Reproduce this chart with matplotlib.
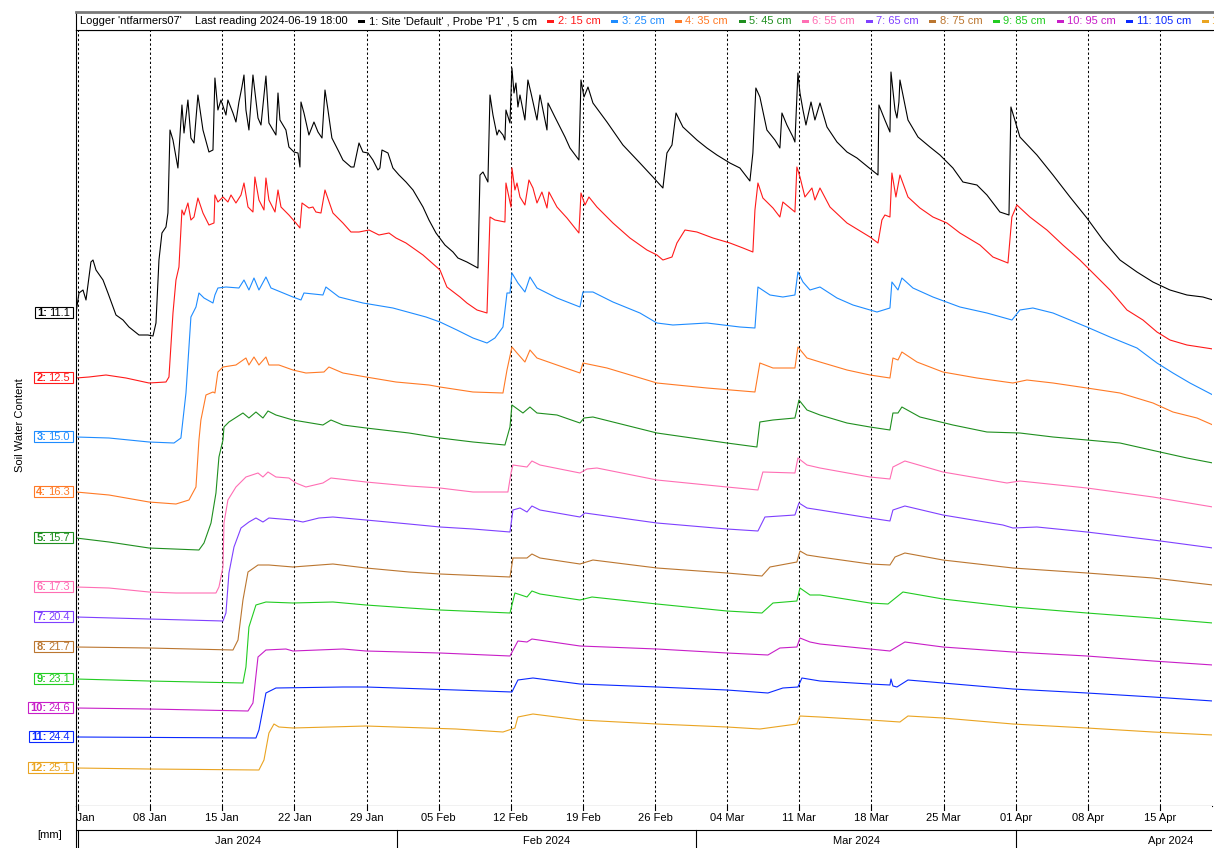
import datetime as dt
import matplotlib
matplotlib.use("Agg")
import matplotlib.pyplot as plt
from matplotlib.patches import Rectangle
from matplotlib.transforms import IdentityTransform

plt.rcParams['font.family'] = ['Liberation Sans', 'DejaVu Sans']

# ---------------- data ----------------
START = dt.date(2024, 1, 1)
logger_name = "ntfarmers07"
last_reading = "2024-06-19 18:00"
depths_cm = [5, 15, 25, 35, 45, 55, 65, 75, 85, 95, 105, 115]
current_values = [11.1, 12.5, 15.0, 16.3, 15.7, 17.3, 20.4, 21.7, 23.1, 24.6, 24.4, 25.1]
colors = ['#000000', '#ff1a1a', '#1e8cff', '#ff7a26', '#1f8f1f', '#ff6eb4',
          '#7f40ff', '#bb7630', '#22cc22', '#c81ec8', '#0a28ff', '#eaa421']

# (day since 2024-01-01, stacked trace position; larger = lower on the chart)
s1 = [(-0.19,313),(0.10,293),(0.49,290),(0.78,300),(1.26,262),(1.46,260),(1.75,270),(2.43,280),(2.91,293),
      (3.69,315),(4.37,320),(4.95,327),(5.92,335),(6.79,335),(7.28,336),(7.57,323),(7.86,260),(8.15,233),
      (8.54,227),(8.73,213),(8.93,130),(9.22,140),(9.70,168),(10.09,105),(10.29,133),(10.67,100),(10.96,138),
      (11.26,143),(11.64,95),(12.13,130),(12.71,152),(13.10,150),(13.29,78),(13.58,110),(13.88,100),(14.36,115),
      (14.55,100),(15.04,113),(15.33,122),(15.62,102),(15.91,87),(16.11,75),(16.30,110),(16.59,130),(16.98,75),
      (17.47,118),(17.76,125),(18.24,76),(18.53,123),(19.21,135),(19.41,93),(19.60,120),(20.18,130),(20.47,147),
      (20.96,152),(21.35,153),(21.54,167),(21.64,102),(21.93,113),(22.41,135),(22.90,122),(23.29,132),(23.68,138),
      (23.97,90),(24.26,110),(24.64,138),(25.33,152),(25.71,160),(26.49,167),(26.78,167),(27.27,143),(27.65,152),
      (28.14,153),(28.62,160),(29.11,170),(29.30,168),(29.50,150),(30.08,153),(30.56,168),(31.15,175),(31.83,182),
      (32.51,190),(33.48,207),(34.06,220),(34.74,233),(35.61,245),(36.39,252),(36.87,258),(37.74,262),(38.81,268),
      (39.01,175),(39.30,172),(39.78,182),(39.98,95),(40.27,115),(40.66,135),(40.85,130),(41.24,135),(41.43,140),
      (41.53,110),(41.92,123),(42.11,68),(42.31,93),(42.50,83),(42.69,107),(42.89,95),(43.37,120),(43.66,80),
      (43.96,93),(44.54,120),(44.83,95),(45.51,130),(45.61,103),(46.28,117),(47.26,137),(47.74,148),(48.61,160),
      (48.81,80),(49.10,97),(49.49,87),(49.97,103),(51.33,122),(52.88,145),(54.53,163),(55.79,177),(56.76,188),
      (57.15,153),(57.64,145),(58.03,113),(58.70,127),(60.06,140),(61.03,148),(62.00,155),(63.26,163),(64.23,168),
      (65.20,181),(65.49,153),(65.78,88),(66.17,97),(66.85,130),(67.63,140),(68.11,148),(68.31,113),(68.79,125),
      (69.38,137),(69.57,142),(69.86,73),(70.06,93),(70.35,110),(70.64,125),(71.13,102),(71.51,120),(72.00,103),
      (72.68,127),(73.65,142),(74.62,152),(75.59,158),(76.66,167),(77.63,175),(77.72,105),(78.30,120),(78.79,132),
      (78.89,72),(79.28,110),(79.47,118),(79.66,102),(79.76,80),(80.54,120),(81.51,137),(82.67,147),(83.64,155),
      (84.90,168),(85.87,182),(87.23,185),(88.20,195),(89.46,212),(90.34,215),(90.53,107),(91.40,137),(93.05,155),
      (94.61,175),(96.26,197),(97.90,218),(99.46,240),(101.11,260),(102.76,272),(104.31,282),(105.96,290),
      (107.61,295),(109.16,297),(110.13,300)]
s2 = [(-0.19,378),(1.07,377),(2.72,375),(4.66,378),(6.89,383),(8.54,382),(8.83,377),(9.22,313),(9.51,280),
      (9.80,267),(10.09,210),(10.29,215),(10.67,203),(10.96,220),(11.26,217),(11.64,198),(12.13,213),(12.71,225),
      (13.20,223),(13.29,195),(13.58,202),(14.07,197),(14.55,202),(14.85,195),(15.33,203),(15.82,195),(16.11,183),
      (16.50,207),(16.98,212),(17.17,177),(17.56,200),(18.05,210),(18.24,178),(18.53,200),(19.12,212),(19.41,190),
      (19.70,207),(20.47,215),(21.15,223),(21.54,228),(21.74,203),(22.41,208),(22.80,207),(23.09,212),(23.58,213),
      (23.97,190),(24.74,213),(25.71,223),(26.49,232),(27.27,232),(28.24,230),(29.21,235),(30.18,233),(30.86,238),
      (31.83,243),(33.48,255),(35.13,270),(35.80,287),(37.07,297),(37.74,303),(38.72,310),(39.69,313),(39.98,217),
      (40.46,220),(41.43,222),(41.53,183),(42.02,207),(42.11,168),(42.40,190),(42.60,183),(42.89,197),(43.37,205),
      (43.76,180),(44.15,188),(44.54,203),(45.02,192),(45.51,208),(45.70,192),(46.48,207),(47.45,218),(48.61,233),
      (48.81,193),(49.20,205),(49.58,197),(50.36,207),(51.91,223),(53.56,238),(55.21,250),(56.18,255),(56.76,260),
      (57.64,257),(58.12,243),(58.90,230),(60.06,232),(61.62,238),(63.26,243),(64.53,248),(65.49,252),(65.69,210),
      (65.98,183),(66.46,198),(67.44,208),(68.11,217),(68.40,202),(69.57,212),(69.76,167),(70.06,177),(70.54,197),
      (71.22,188),(71.51,200),(72.00,188),(72.97,207),(74.62,223),(76.85,237),(77.63,243),(78.01,220),(78.30,215),
      (78.79,217),(78.98,173),(79.37,197),(79.76,175),(80.54,197),(81.70,208),(82.96,217),(84.32,223),(85.58,233),
      (87.52,245),(88.78,257),(90.24,263),(90.62,217),(91.11,205),(92.37,217),(94.02,230),(95.57,245),(97.22,260),
      (98.49,273),(100.14,290),(101.79,310),(103.34,320),(104.70,332),(105.96,340),(107.61,345),(110.13,349)]
s3 = [(-0.19,437),(3.01,438),(6.89,442),(9.32,443),(9.99,438),(10.48,393),(10.96,317),(11.45,307),(11.74,293),
      (12.23,298),(13.10,303),(13.29,295),(13.58,288),(14.36,287),(15.62,288),(16.11,280),(16.59,290),(17.08,278),
      (17.56,290),(18.24,277),(18.73,288),(19.21,290),(20.86,297),(21.64,300),(21.93,293),(23.77,295),(24.06,287),
      (25.33,297),(27.65,303),(30.56,308),(33.77,317),(35.13,322),(36.77,330),(38.33,338),(39.69,343),(40.46,338),
      (41.24,327),(41.63,293),(41.92,293),(42.11,273),(42.69,283),(43.37,292),(43.86,277),(44.54,288),(45.51,293),
      (46.48,298),(48.71,307),(49.00,292),(49.97,292),(51.91,302),(54.53,313),(56.18,323),(57.73,325),(61.03,323),
      (64.23,327),(65.69,328),(65.98,287),(67.15,295),(68.40,297),(69.57,295),(69.86,272),(70.35,282),(71.03,290),
      (72.00,287),(73.65,298),(75.20,305),(77.53,312),(78.79,308),(78.98,282),(79.57,290),(79.95,278),(81.02,288),
      (82.96,297),(85.58,307),(88.20,313),(90.63,320),(91.40,310),(92.66,308),(94.61,313),(97.90,327),(100.14,337),
      (102.76,348),(104.70,363),(106.25,373),(107.90,383),(110.13,395)]
s4 = [(-0.19,492),(3.01,495),(6.89,502),(9.51,504),(10.77,500),(11.45,487),(11.74,440),(11.93,420),(12.42,395),
      (13.10,392),(13.29,393),(13.58,372),(14.07,367),(15.33,365),(16.30,358),(16.59,365),(17.08,357),(17.56,365),
      (18.24,357),(18.53,365),(19.50,365),(20.86,370),(22.12,373),(23.87,372),(24.35,367),(25.71,373),(27.95,377),
      (30.86,382),(34.06,385),(35.13,387),(38.33,392),(41.24,393),(41.63,370),(42.11,347),(42.60,353),(43.37,362),
      (43.86,350),(44.54,358),(46.48,365),(48.71,373),(49.00,363),(51.33,368),(56.18,383),(61.03,388),(65.69,392),
      (66.17,363),(67.44,368),(69.57,368),(69.86,347),(70.74,358),(72.00,362),(74.62,370),(76.85,375),(78.79,378),
      (79.08,358),(79.57,360),(79.95,352),(81.41,362),(83.93,372),(87.23,378),(90.72,383),(92.08,380),(94.61,383),
      (97.90,388),(101.11,393),(104.31,403),(106.25,412),(108.58,418),(110.13,425)]
s5 = [(-0.19,538),(3.01,542),(6.89,548),(11.74,550),(12.23,543),(12.91,523),(13.39,493),(13.68,457),(14.07,440),
      (14.17,427),(14.65,422),(16.01,413),(16.59,418),(17.27,412),(17.95,418),(18.44,411),(19.21,415),(20.86,420),
      (23.77,425),(24.55,420),(25.71,425),(27.95,428),(32.12,433),(35.13,438),(38.33,442),(41.43,445),(41.92,427),
      (42.11,405),(43.18,413),(43.86,407),(44.54,413),(46.48,415),(48.71,423),(49.10,418),(49.97,417),(56.18,433),
      (62.97,443),(65.88,447),(66.17,422),(67.44,420),(69.57,418),(69.96,400),(70.74,410),(72.00,415),(74.62,423),
      (76.85,427),(78.79,430),(79.08,413),(79.57,413),(79.95,407),(81.70,417),(84.90,425),(88.20,432),(91.40,433),
      (94.61,437),(97.90,440),(101.11,443),(104.99,452),(107.61,458),(110.13,463)]
s6 = [(-0.19,587),(3.01,588),(6.89,592),(9.51,593),(13.39,593),(13.68,587),(14.07,567),(14.17,523),(14.55,500),
      (15.33,487),(16.30,477),(17.47,473),(17.95,477),(18.44,472),(19.21,477),(20.47,478),(21.15,483),(22.12,487),
      (23.77,483),(24.55,478),(27.95,482),(32.12,486),(35.13,488),(38.33,492),(41.72,492),(42.02,473),(42.21,465),
      (43.57,467),(44.05,461),(44.83,465),(48.71,473),(49.39,469),(50.36,468),(56.18,480),(62.97,487),(65.98,490),
      (66.46,472),(69.57,473),(69.86,458),(70.74,465),(72.00,468),(76.85,477),(78.79,479),(79.08,467),(80.24,461),
      (83.93,472),(90.14,483),(91.40,481),(97.90,488),(104.31,497),(110.13,507)]
s7 = [(-0.19,617),(6.89,619),(14.07,621),(14.36,613),(14.65,573),(15.14,547),(15.82,528),(16.59,522),(17.27,518),
      (17.95,522),(18.53,518),(20.86,520),(21.83,522),(23.38,518),(24.74,517),(27.95,520),(32.12,524),(35.13,527),
      (38.33,529),(41.92,532),(42.21,510),(42.89,508),(43.57,512),(44.05,506),(44.83,510),(48.71,517),(49.20,513),
      (56.18,523),(62.97,529),(65.98,531),(66.66,517),(69.57,515),(69.96,503),(70.74,508),(72.00,510),(76.85,518),
      (78.79,521),(79.08,510),(80.24,506),(83.93,515),(89.75,525),(90.72,528),(93.05,527),(97.90,532),(104.31,540),
      (110.13,548)]
s8 = [(-0.19,647),(6.89,648),(15.04,650),(15.53,640),(16.01,600),(16.50,572),(17.47,565),(18.53,565),(20.86,567),
      (24.74,564),(27.95,568),(32.12,572),(35.13,574),(41.92,577),(42.21,558),(43.57,558),(44.05,554),(44.83,558),
      (48.71,564),(49.97,560),(56.18,568),(62.97,573),(66.37,576),(67.15,567),(69.76,562),(70.06,551),(70.74,555),
      (72.00,557),(76.85,564),(78.79,565),(79.28,557),(80.24,553),(83.93,560),(90.72,568),(97.90,573),(104.31,578),
      (110.13,585)]
s9 = [(-0.19,679),(6.89,681),(16.01,683),(16.30,667),(16.59,627),(17.27,605),(18.24,602),(20.86,603),(24.74,602),
      (27.95,605),(32.12,608),(35.13,610),(41.92,613),(42.40,593),(43.57,597),(44.05,591),(44.83,594),(48.71,600),
      (49.88,597),(56.18,604),(62.97,611),(66.37,613),(67.44,603),(69.76,601),(70.06,588),(71.03,595),(72.00,595),
      (76.85,603),(78.60,604),(80.05,592),(83.93,599),(90.72,607),(97.90,613),(104.31,618),(110.13,623)]
s10 = [(-0.19,708),(6.89,709),(16.50,711),(16.98,703),(17.47,657),(18.24,650),(20.18,649),(20.86,651),(25.71,649),
       (27.95,651),(35.13,653),(41.92,656),(42.69,641),(43.57,642),(44.05,639),(48.71,646),(56.18,649),(62.97,653),
       (66.95,655),(68.11,648),(69.76,647),(70.06,638),(71.03,642),(72.00,644),(76.85,649),(78.79,651),(80.24,642),
       (83.93,647),(90.72,652),(97.90,656),(104.31,661),(110.13,665)]
s11 = [(-0.19,737),(17.27,738),(17.56,730),(18.24,693),(19.21,688),(25.71,687),(27.95,687),(36.68,690),(42.11,692),
       (42.69,680),(44.15,678),(48.71,684),(56.18,687),(62.97,690),(66.95,693),(68.40,688),(69.86,687),(70.25,678),
       (72.00,681),(76.85,684),(78.79,685),(78.89,679),(79.08,686),(79.47,687),(80.54,680),(83.93,683),(90.72,689),
       (97.90,693),(104.31,697),(110.13,701)]
s12 = [(-0.19,768),(6.89,769),(17.56,770),(18.05,760),(18.53,733),(19.02,724),(19.50,727),(20.86,728),(27.95,726),
       (36.68,729),(41.24,732),(42.40,728),(42.69,717),(44.15,714),(48.71,720),(56.18,724),(62.97,727),(66.17,729),
       (69.76,724),(70.06,716),(72.00,717),(76.85,720),(79.76,722),(80.54,716),(83.93,718),(90.72,724),(97.90,728),
       (104.31,732),(110.13,735)]
series = [s1, s2, s3, s4, s5, s6, s7, s8, s9, s10, s11, s12]

# ---------------- figure ----------------
W, H = 1214, 848
fig = plt.figure(figsize=(W / 100, H / 100), dpi=100)
XLIM = (-0.19, 110.04)
FS = 8

ax = fig.add_axes([76 / W, (H - 806) / H, 1136 / W, 776 / H])
ax.set_xlim(*XLIM)
ax.set_ylim(806, 30)
ax.set_xticks([])
ax.set_yticks([])
for side in ['left', 'top', 'bottom']:
    ax.spines[side].set_linewidth(0.8)
    ax.spines[side].set_color('black')
ax.spines['right'].set_visible(False)

weeks = list(range(0, 106, 7))
for d in weeks:
    ax.axvline(d, color='black', lw=0.75, ls=(0, (2.2, 2.2)), zorder=0.5)

for s, c in zip(series, colors):
    days = [p[0] for p in s]
    vals = [p[1] for p in s]
    ax.plot(days, vals, color=c, lw=0.8, zorder=2)

# ---------------- header ----------------
hx = fig.add_axes([76 / W, (H - 30) / H, (W - 76) / W, 18 / H])
hx.set_xticks([])
hx.set_yticks([])
hx.spines['right'].set_visible(False)
hx.spines['top'].set_color('#7a7a7a')
hx.spines['top'].set_linewidth(2.0)
hx.spines['left'].set_linewidth(0.8)
hx.spines['bottom'].set_linewidth(0.8)

r = fig.canvas.get_renderer()
ID = IdentityTransform()
yh = H - 21
x = 80
t = fig.text(x, yh, f"Logger '{logger_name}'", transform=ID, ha='left', va='center', fontsize=FS)
x = t.get_window_extent(r).x1 + 13
t = fig.text(x, yh, f"Last reading {last_reading}", transform=ID, ha='left', va='center', fontsize=FS)
x = t.get_window_extent(r).x1 + 11
for i, (dep, c) in enumerate(zip(depths_cm, colors), start=1):
    fig.add_artist(Rectangle((x, yh - 1.5), 7, 3, transform=ID, color=c, lw=0))
    lab = f"{i}: Site 'Default' , Probe 'P1' , {dep} cm" if i == 1 else f"{i}: {dep} cm"
    t = fig.text(x + 10.5, yh, lab, transform=ID, ha='left', va='center', fontsize=FS, color=c,
                 clip_on=True)
    t.set_clip_box(hx.bbox)
    x = t.get_window_extent(r).x1 + 10.5

# ---------------- left value labels ----------------
for i, (s, c, v) in enumerate(zip(series, colors, current_values), start=1):
    yd = ax.transData.transform((0, s[0][1]))[1]
    tv = fig.text(70, yd, f"{v:.1f}", transform=ID, ha='right', va='center', fontsize=FS, color=c, zorder=5)
    bv = tv.get_window_extent(r)
    tn = fig.text(bv.x0 - 2, yd, f"{i}:", transform=ID, ha='right', va='center', fontsize=FS,
                  color=c, fontweight='bold', zorder=5)
    bn = tn.get_window_extent(r)
    x0 = bn.x0 - 2.5
    fig.add_artist(Rectangle((x0, yd - 5.5), 73 - x0, 11, transform=ID, facecolor='white',
                             edgecolor=c, lw=0.8, zorder=4))

fig.text(20, H - 425, 'Soil Water Content', transform=ID, rotation=90, ha='center', va='center', fontsize=FS)
fig.text(50, H - 835, '[mm]', transform=ID, ha='center', va='center', fontsize=FS)

# ---------------- date strip ----------------
axd = fig.add_axes([76 / W, 0, 1136 / W, 42 / H])
axd.set_xlim(*XLIM)
axd.set_ylim(42, 0)
axd.set_xticks([])
axd.set_yticks([])
axd.spines['right'].set_visible(False)
axd.spines['bottom'].set_visible(False)
axd.spines['top'].set_visible(False)
axd.spines['left'].set_linewidth(0.8)
for d in weeks:
    axd.plot([d, d], [0, 4], color='black', lw=0.8)
    lab = (START + dt.timedelta(days=d)).strftime('%d %b')
    axd.text(d, 12, lab, ha='center', va='center', fontsize=FS, clip_on=True)
axd.axhline(24, color='black', lw=0.8)
for m in range(1, 5):
    m0 = dt.date(2024, m, 1)
    m1 = dt.date(2024, m + 1, 1)
    d0 = (m0 - START).days
    n = (m1 - m0).days
    axd.plot([d0, d0], [24, 42], color='black', lw=0.8)
    axd.text(d0 + n / 2, 35, m0.strftime('%b %Y'), ha='center', va='center', fontsize=FS, clip_on=True)

fig.savefig('out.png', dpi=100)
